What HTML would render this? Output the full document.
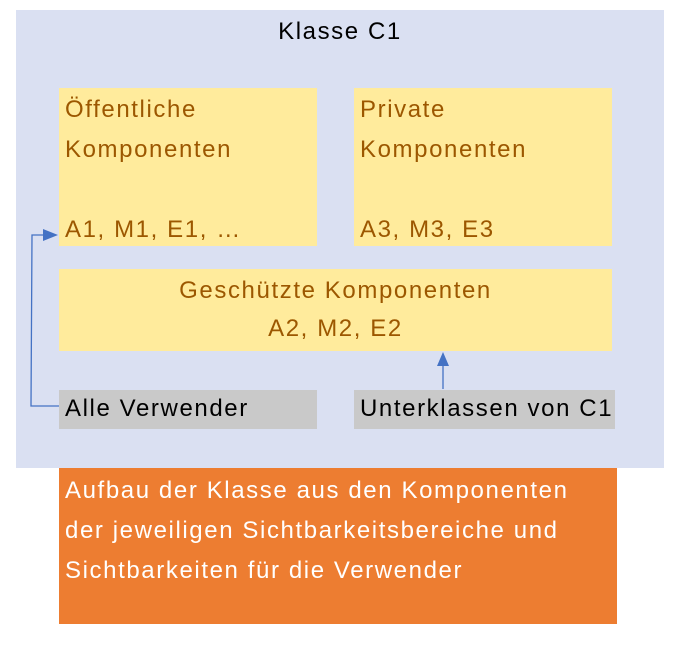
<!DOCTYPE html>
<html><head><meta charset="utf-8"><style>
body{margin:0;width:682px;height:665px;background:#fff;position:relative;font-family:"Liberation Sans",sans-serif;overflow:hidden}
div{position:absolute;box-sizing:border-box}
.t{font-size:24px;letter-spacing:1.6px;white-space:nowrap}
.y{background:#ffeb9c;color:#9c5700;line-height:40px;padding-left:6px}
.g{background:#c9c9c9;color:#000;line-height:38px;padding-left:6px}
</style></head><body>
<div style="left:16px;top:10px;width:648px;height:458px;background:#dae0f2"></div>
<div class="t" style="left:16px;top:15px;width:648px;text-align:center;line-height:34px;color:#000">Klasse C1</div>
<div class="y t" style="left:59px;top:88px;width:258px;height:158px;padding-top:2px">Öffentliche<br>Komponenten<div style="left:6px;top:122px">A1, M1, E1, …</div></div>
<div class="y t" style="left:354px;top:88px;width:258px;height:158px;padding-top:2px">Private<br>Komponenten<div style="left:6px;top:122px">A3, M3, E3</div></div>
<div class="y t" style="left:59px;top:269px;width:553px;height:82px;text-align:center;padding:3px 0 0;line-height:38px">Geschützte Komponenten<br>A2, M2, E2</div>
<div class="g t" style="left:59px;top:390px;width:258px;height:39px">Alle Verwender</div>
<div class="g t" style="left:354px;top:390px;width:261px;height:39px">Unterklassen von C1</div>
<div class="t" style="left:59px;top:468px;width:558px;height:156px;background:#ed7d31;color:#fff;line-height:40px;padding:3px 0 0 6px;overflow:hidden">Aufbau der Klasse aus den Komponenten<br>der jeweiligen Sichtbarkeitsbereiche und<br>Sichtbarkeiten für die Verwender</div>
<svg style="position:absolute;left:0;top:0" width="682" height="665">
<polyline points="59,406 31,406 32,235 45,235" fill="none" stroke="#4472c4" stroke-width="1.3"/>
<polygon points="43,229 58,235 43,241" fill="#4472c4"/>
<line x1="443" y1="389" x2="443" y2="364" stroke="#4472c4" stroke-width="1.3"/>
<polygon points="437,366 443,352 449,366" fill="#4472c4"/>
</svg>
</body></html>
